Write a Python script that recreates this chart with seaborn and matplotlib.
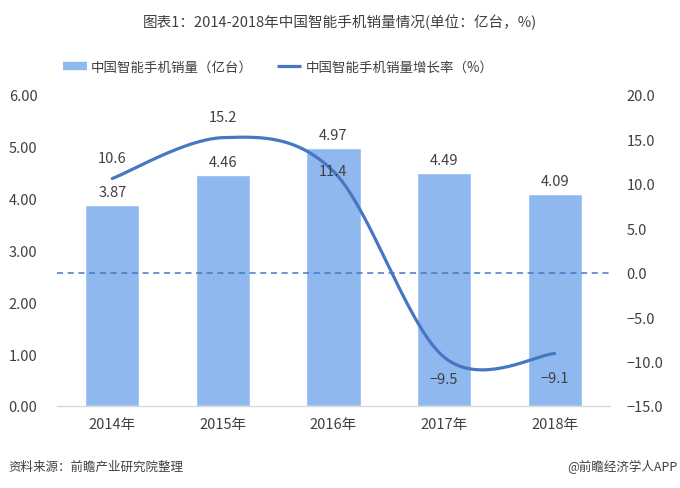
import numpy as np
import pandas as pd
import matplotlib
matplotlib.use("Agg")
import matplotlib.pyplot as plt
import seaborn as sns
from matplotlib.lines import Line2D

years = ["2014年", "2015年", "2016年", "2017年", "2018年"]
sales = [3.87, 4.46, 4.97, 4.49, 4.09]
growth = [10.6, 15.2, 11.4, -9.5, -9.1]
left_ticks = [0, 1, 2, 3, 4, 5, 6]
right_ticks = [-15, -10, -5, 0, 5, 10, 15, 20]

sns.set_theme(style="white")
plt.rcParams['font.family'] = ['Noto Sans CJK SC', 'DejaVu Sans']

bar_color = "#8FB9EE"
line_color = "#4677C4"
text_color = "#404040"

fig = plt.figure(figsize=(6.8, 4.89), dpi=100)
ax = fig.add_axes([0.0838, 0.1677, 0.897 - 0.0838, 0.8037 - 0.1677])

df = pd.DataFrame({"year": years, "sales": sales})
sns.barplot(data=df, x="year", y="sales", color=bar_color, width=0.49,
            saturation=1, ax=ax, zorder=2)
ax.set_xlim(-0.5, 4.5)
ax.set_ylim(0, 6)
ax.set_yticks(left_ticks)
ax.set_yticklabels([f"{v:.2f}" for v in left_ticks], fontsize=10.5, color=text_color)
ax.set_xlabel("")
ax.set_ylabel("")
ax.tick_params(axis="x", labelsize=10.5, colors=text_color, length=0, pad=8)
ax.tick_params(axis="y", length=0, pad=14)
for s in ["top", "right", "left"]:
    ax.spines[s].set_visible(False)
ax.spines["bottom"].set_color("#D9D9D9")
ax.spines["bottom"].set_linewidth(1.0)

for i, v in enumerate(sales):
    ax.text(i, v + 0.12, f"{v:.2f}", ha="center", va="bottom", fontsize=10.5, color=text_color, zorder=5)

ax2 = ax.twinx()
ax2.set_ylim(-15, 20)
ax2.set_yticks(right_ticks)
ax2.set_yticklabels([f"{v:.1f}".replace("-", "−") for v in right_ticks], fontsize=10.5, color=text_color)
ax2.tick_params(axis="y", length=0, pad=12)
for s in ["top", "right", "left", "bottom"]:
    ax2.spines[s].set_visible(False)

# smooth curve (Catmull-Rom through the data points)
px = np.arange(len(growth), dtype=float)
py = np.array(growth, dtype=float)
P = np.column_stack([px, py])
P = np.vstack([P[0], P, P[-1]])
cx, cy = [], []
for k in range(1, len(P) - 2):
    p0, p1, p2, p3 = P[k - 1], P[k], P[k + 1], P[k + 2]
    t = np.linspace(0, 1, 40)[:, None]
    pts = 0.5 * ((2 * p1) + (-p0 + p2) * t + (2 * p0 - 5 * p1 + 4 * p2 - p3) * t ** 2
                 + (-p0 + 3 * p1 - 3 * p2 + p3) * t ** 3)
    cx.extend(pts[:, 0]); cy.extend(pts[:, 1])
ax2.plot(cx, cy, color=line_color, lw=2.3, zorder=4, solid_capstyle="round")
ax2.axhline(0, color=line_color, lw=1.1, ls=(0, (4, 3)), zorder=3)

offsets = [2.3, 2.3, 0.0, -2.5, -2.7]
for i, v in enumerate(growth):
    ax2.text(i, v + offsets[i], f"{v:.1f}".replace("-", "−"), ha="center", va="center",
             fontsize=10.5, color=text_color, zorder=5)

fig.text(0.5, 0.955, "图表1：2014-2018年中国智能手机销量情况(单位：亿台，%)", ha="center",
         va="center", fontsize=10.5, color=text_color)

handles = [Line2D([0], [0], color=bar_color, lw=6, solid_capstyle="butt"),
           Line2D([0], [0], color=line_color, lw=2.3, solid_capstyle="butt")]
fig.legend(handles, ["中国智能手机销量（亿台）", "中国智能手机销量增长率（%）"],
           loc="center left", bbox_to_anchor=(0.088, 0.862), ncol=2, frameon=False,
           fontsize=9.7, handlelength=1.8, handletextpad=0.3, columnspacing=1.8,
           labelcolor=text_color, borderaxespad=0, borderpad=0.2)

fig.text(0.012, 0.045, "资料来源：前瞻产业研究院整理", ha="left", va="center",
         fontsize=9, color=text_color, style="italic")
fig.text(0.997, 0.045, "@前瞻经济学人APP", ha="right", va="center",
         fontsize=9, color=text_color)

fig.savefig("out.png", dpi=100, facecolor="white")
